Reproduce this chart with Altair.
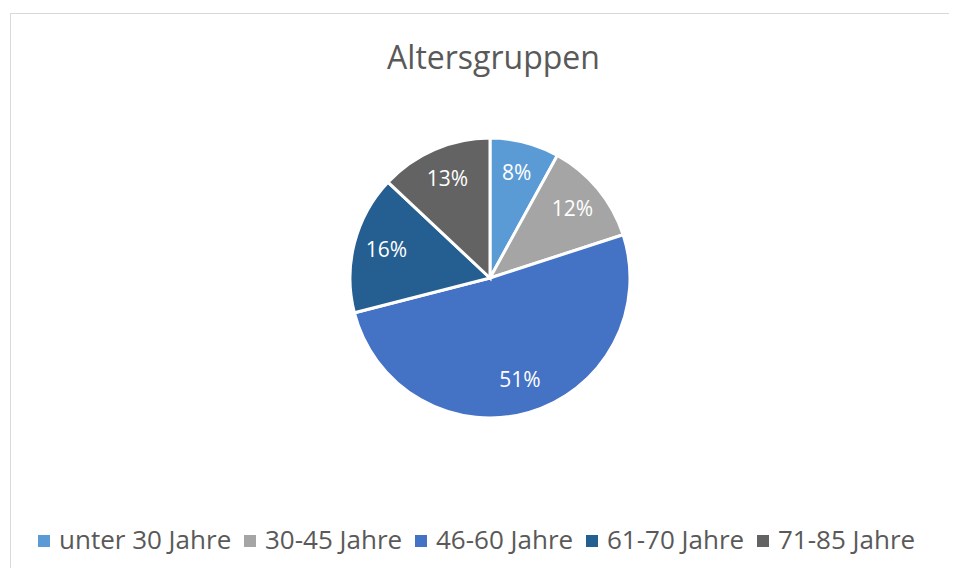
import altair as alt
import pandas as pd

# --- data ---
categories = ["unter 30 Jahre", "30-45 Jahre", "46-60 Jahre", "61-70 Jahre", "71-85 Jahre"]
shares = [8, 12, 51, 16, 13]
share_labels = ["8%", "12%", "51%", "16%", "13%"]
colors = ["#5B9BD5", "#A5A5A5", "#4472C4", "#255E91", "#636363"]

df = pd.DataFrame({
    "Gruppe": categories,
    "Anteil": shares,
    "Label": share_labels,
    "Ordnung": list(range(len(categories))),
})
frame_df = pd.DataFrame({"k": [0]})

FONT = "Open Sans"
TEXT_GREY = "#595959"
W, H = 941, 560
CX, CY = 482, 270

base = alt.Chart(df).encode(
    theta=alt.Theta("Anteil:Q", stack=True),
    order=alt.Order("Ordnung:Q", sort="ascending"),
)

pie = base.mark_arc(outerRadius=140, stroke="white", strokeWidth=3, x=CX, y=CY).encode(
    color=alt.Color(
        "Gruppe:N",
        scale=alt.Scale(domain=categories, range=colors),
        sort=categories,
        legend=alt.Legend(
            orient="none",
            legendX=23,
            legendY=520,
            direction="horizontal",
            columns=5,
            title=None,
            symbolType="square",
            symbolSize=144,
            symbolStrokeWidth=0,
            labelFont=FONT,
            labelFontSize=26,
            labelColor=TEXT_GREY,
            labelOffset=2,
            labelLimit=0,
            columnPadding=5,
        ),
    )
)

labels = base.mark_text(
    radius=107, x=CX, y=CY, font=FONT, fontSize=21, color="white"
).encode(text="Label:N")

border_top = alt.Chart(frame_df).mark_rule(color="#D9D9D9", strokeWidth=1).encode(
    x=alt.value(2), x2=alt.value(W), y=alt.value(5.5)
)
border_left = alt.Chart(frame_df).mark_rule(color="#D9D9D9", strokeWidth=1).encode(
    x=alt.value(2.5), y=alt.value(5), y2=alt.value(H)
)

chart = alt.layer(border_top, border_left, pie, labels).properties(
    width=W,
    height=H,
    padding=0,
    autosize=alt.AutoSizeParams(type="none"),
    background="white",
    title=alt.Title(
        "Altersgruppen",
        font=FONT,
        fontSize=32,
        fontWeight="normal",
        color=TEXT_GREY,
        anchor="middle",
        frame="group",
        dx=15,
        dy=72,
    ),
).configure_view(stroke=None)

chart.save("out.html", embed_options={"renderer": "svg", "actions": False})
